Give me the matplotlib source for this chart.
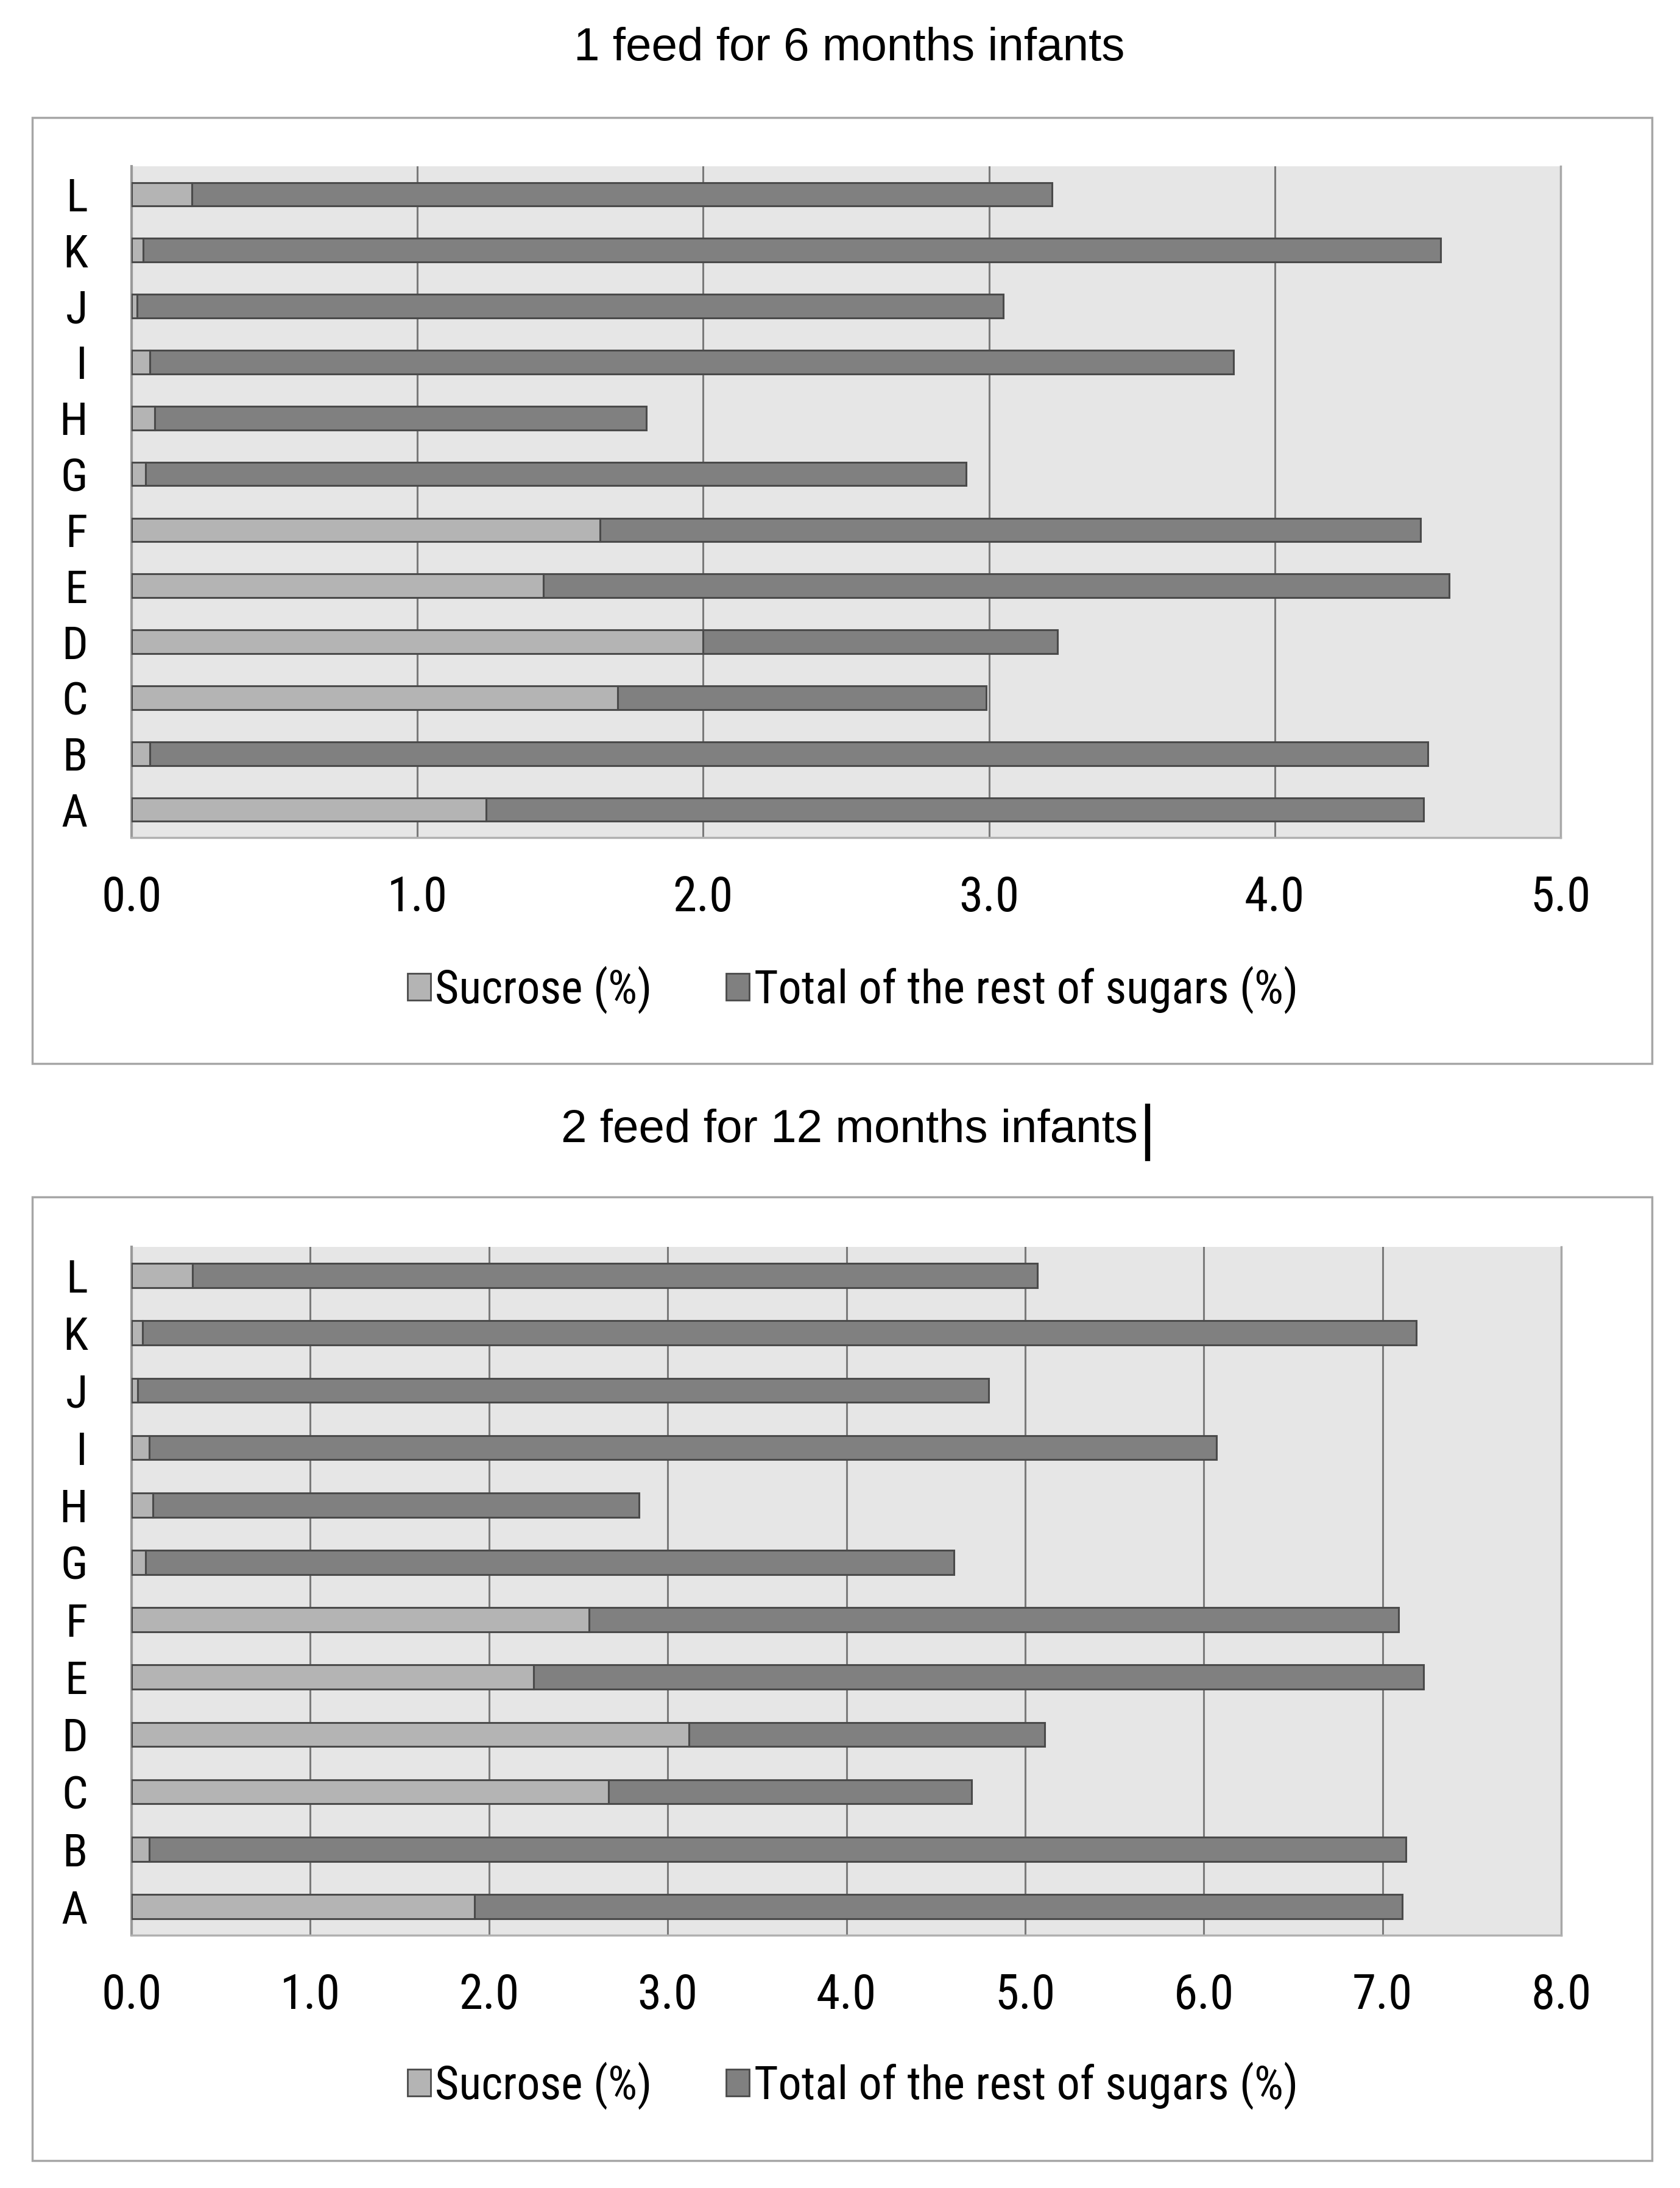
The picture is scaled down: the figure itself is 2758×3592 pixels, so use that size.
import matplotlib
matplotlib.use("Agg")
import matplotlib.pyplot as plt
from matplotlib import font_manager
from matplotlib.patches import Rectangle, Patch
from matplotlib.lines import Line2D

# ---------------- data ----------------
categories = ['A', 'B', 'C', 'D', 'E', 'F', 'G', 'H', 'I', 'J', 'K', 'L']

sucrose_6m = [1.24, 0.065, 1.70, 2.00, 1.44, 1.64, 0.05, 0.08, 0.065, 0.02, 0.04, 0.21]
rest_6m = [3.28, 4.47, 1.29, 1.24, 3.17, 2.87, 2.87, 1.72, 3.79, 3.03, 4.54, 3.01]

sucrose_12m = [1.92, 0.10, 2.67, 3.12, 2.25, 2.56, 0.08, 0.12, 0.10, 0.035, 0.06, 0.34]
rest_12m = [5.19, 7.03, 2.03, 1.99, 4.98, 4.53, 4.52, 2.72, 5.97, 4.76, 7.13, 4.73]

xticks_6m = [0.0, 1.0, 2.0, 3.0, 4.0, 5.0]
xticks_12m = [0.0, 1.0, 2.0, 3.0, 4.0, 5.0, 6.0, 7.0, 8.0]

title_6m = "1 feed for 6 months infants"
title_12m = "2 feed for 12 months infants"
legend_labels = ["Sucrose (%)", "Total of the rest of sugars (%)"]

# ---------------- fonts ----------------
avail = {f.name for f in font_manager.fontManager.ttflist}
narrow = 'DejaVu Sans'
for cand in ['Liberation Sans Narrow', 'DejaVu Sans Condensed', 'Roboto Condensed',
             'Open Sans Condensed', 'Lato', 'Roboto']:
    if cand in avail:
        narrow = cand
        break
arial = 'Liberation Sans' if 'Liberation Sans' in avail else 'DejaVu Sans'
NARROW = [narrow, 'DejaVu Sans']

W, H = 2758, 3592
fig = plt.figure(figsize=(W / 100, H / 100), dpi=100)
fig.patch.set_facecolor('white')
renderer = fig.canvas.get_renderer()


def fit_size(s, family, target_px, base=50):
    t = fig.text(0, 0, s, fontsize=base, family=family)
    w = t.get_window_extent(renderer).width
    t.remove()
    return base * target_px / w


TICK_FS = fit_size("0.0", NARROW, 99)
LEG_FS = fit_size(legend_labels[1], NARROW, 894)
YLAB_FS = TICK_FS * 0.95

C_SUC = '#b4b4b4'
C_REST = '#808080'
C_EDGE = '#4a4a4a'
C_BG = '#e6e6e6'
C_GRID = '#7a7a7a'


def fx(px):
    return px / W


def fy(py):
    return 1 - py / H


def draw_panel(left, top, right, bottom, suc, rest, xticks, box):
    ax = fig.add_axes([fx(left), fy(bottom), fx(right) - fx(left), fy(top) - fy(bottom)])
    ax.set_facecolor(C_BG)
    y = list(range(len(categories)))
    ax.barh(y, suc, height=0.42, color=C_SUC, edgecolor=C_EDGE, linewidth=2.2, zorder=3)
    ax.barh(y, rest, left=suc, height=0.42, color=C_REST, edgecolor=C_EDGE, linewidth=2.2, zorder=3)
    ax.set_ylim(-0.5, len(categories) - 0.5)
    ax.set_xlim(xticks[0], xticks[-1])
    ax.set_xticks(xticks)
    ax.set_xticklabels([f"{t:.1f}" for t in xticks], fontsize=TICK_FS, family=NARROW)
    ax.set_yticks(y)
    ax.set_yticklabels(categories, fontsize=YLAB_FS, family=NARROW)
    ax.tick_params(axis='x', length=0, pad=44, colors='black')
    ax.tick_params(axis='y', length=0, pad=52, colors='black')
    ax.xaxis.grid(True, color=C_GRID, linewidth=2.2, zorder=1)
    ax.set_axisbelow(True)
    ax.spines['top'].set_visible(False)
    ax.spines['left'].set_color('#9a9a9a')
    ax.spines['left'].set_linewidth(3.0)
    ax.spines['bottom'].set_color('#b0b0b0')
    ax.spines['bottom'].set_linewidth(2.5)
    ax.spines['right'].set_color('#a8a8a8')
    ax.spines['right'].set_linewidth(2.5)
    bl, bt, br, bb = box
    fig.patches.append(Rectangle((fx(bl), fy(bb)), fx(br) - fx(bl), fy(bt) - fy(bb),
                                 transform=fig.transFigure, fill=False,
                                 edgecolor='#a6a6a6', linewidth=2.5))
    return ax


draw_panel(216, 273, 2562, 1375, sucrose_6m, rest_6m, xticks_6m, (53, 193, 2712, 1746))
draw_panel(216, 2047, 2563, 3177, sucrose_12m, rest_12m, xticks_12m, (53, 1965, 2712, 3547))

# titles
fig.text(fx(1394), fy(80), title_6m, ha='center', va='center', fontsize=55, family=[arial, 'DejaVu Sans'])
fig.text(fx(1394), fy(1855), title_12m, ha='center', va='center', fontsize=55, family=[arial, 'DejaVu Sans'])
# text cursor after the second title
fig.lines.append(Line2D([fx(1884), fx(1884)], [fy(1816), fy(1902)], transform=fig.transFigure,
                        color='black', linewidth=6))

# legends
handles = [Patch(facecolor=C_SUC, edgecolor=C_EDGE, linewidth=2),
           Patch(facecolor=C_REST, edgecolor=C_EDGE, linewidth=2)]
for ly in (1625, 3424):
    fig.legend(handles, legend_labels, loc='center', bbox_to_anchor=(fx(1400), fy(ly)),
               bbox_transform=fig.transFigure, ncol=2, frameon=False,
               prop={'family': NARROW, 'size': LEG_FS},
               handlelength=0.5, handleheight=0.5, handletextpad=0.1, columnspacing=1.6,
               borderpad=0, borderaxespad=0)

fig.savefig('out.png', dpi=100, facecolor='white')
